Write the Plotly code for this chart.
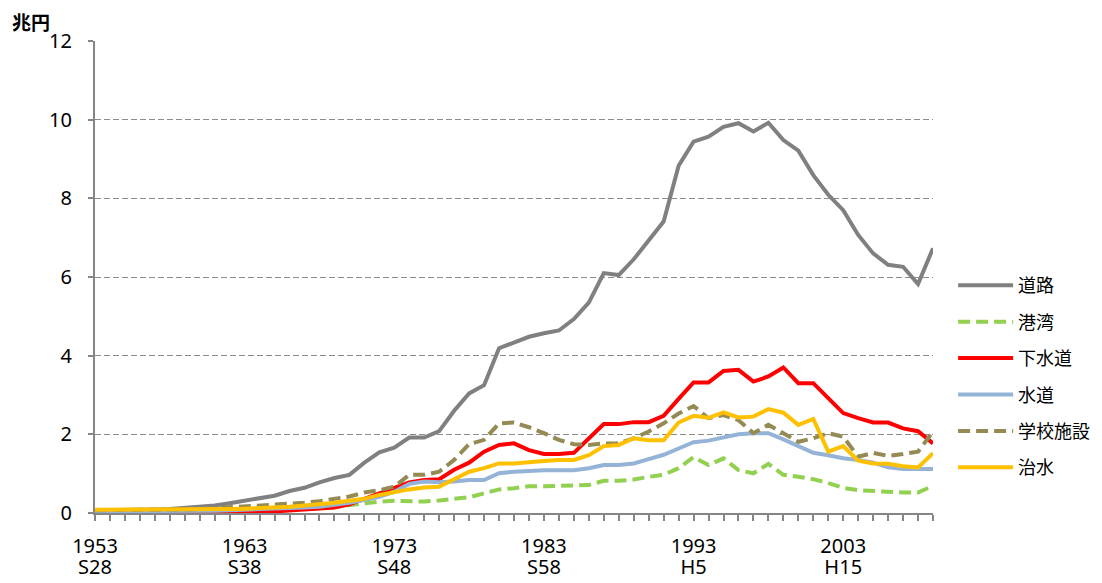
import plotly.graph_objects as go

years = list(range(1953, 2010))

road = [0.07, 0.07, 0.07, 0.08, 0.09, 0.10, 0.13, 0.15, 0.19, 0.25,
        0.31, 0.37, 0.44, 0.56, 0.64, 0.78, 0.89, 0.97, 1.28, 1.54,
        1.66, 1.92, 1.92, 2.08, 2.60, 3.04, 3.25, 4.19, 4.34, 4.48,
        4.57, 4.64, 4.93, 5.35, 6.10, 6.05, 6.45, 6.95, 7.41, 8.83,
        9.44, 9.57, 9.82, 9.91, 9.70, 9.92, 9.48, 9.21, 8.59, 8.09,
        7.70, 7.07, 6.60, 6.31, 6.26, 5.82, 6.73]

port = [0.04, 0.04, 0.04, 0.04, 0.04, 0.04, 0.04, 0.04, 0.04, 0.05,
        0.05, 0.06, 0.07, 0.08, 0.10, 0.12, 0.15, 0.20, 0.26, 0.29,
        0.31, 0.29, 0.29, 0.32, 0.36, 0.40, 0.50, 0.60, 0.63, 0.68,
        0.68, 0.70, 0.70, 0.71, 0.82, 0.82, 0.85, 0.92, 0.97, 1.14,
        1.42, 1.22, 1.39, 1.09, 1.01, 1.25, 0.97, 0.92, 0.86, 0.76,
        0.64, 0.58, 0.56, 0.52, 0.52, 0.52, 0.69]

sewer = [0.03, 0.03, 0.03, 0.02, 0.02, 0.01, 0.01, 0.01, 0.01, 0.01,
         0.02, 0.02, 0.04, 0.06, 0.08, 0.10, 0.14, 0.22, 0.36, 0.50,
         0.62, 0.78, 0.84, 0.86, 1.10, 1.28, 1.56, 1.73, 1.77, 1.60,
         1.50, 1.50, 1.53, 1.90, 2.26, 2.26, 2.31, 2.31, 2.47, 2.90,
         3.32, 3.32, 3.61, 3.64, 3.34, 3.47, 3.70, 3.30, 3.30, 2.92,
         2.54, 2.41, 2.30, 2.30, 2.15, 2.08, 1.77]

water = [0.04, 0.04, 0.04, 0.04, 0.05, 0.05, 0.05, 0.05, 0.06, 0.07,
         0.08, 0.09, 0.10, 0.12, 0.14, 0.16, 0.20, 0.26, 0.33, 0.41,
         0.54, 0.74, 0.80, 0.78, 0.80, 0.84, 0.84, 1.01, 1.05, 1.08,
         1.09, 1.09, 1.09, 1.14, 1.22, 1.22, 1.26, 1.37, 1.48, 1.64,
         1.80, 1.84, 1.92, 2.00, 2.03, 2.03, 1.87, 1.69, 1.53, 1.47,
         1.39, 1.35, 1.28, 1.16, 1.12, 1.12, 1.12]

school = [0.07, 0.07, 0.07, 0.07, 0.07, 0.08, 0.09, 0.10, 0.12, 0.14,
          0.16, 0.18, 0.20, 0.23, 0.26, 0.30, 0.35, 0.42, 0.52, 0.58,
          0.67, 0.97, 0.97, 1.05, 1.35, 1.75, 1.86, 2.28, 2.30, 2.18,
          2.03, 1.86, 1.75, 1.73, 1.77, 1.77, 1.90, 2.07, 2.28, 2.53,
          2.72, 2.41, 2.49, 2.36, 2.03, 2.24, 2.03, 1.81, 1.90, 2.03,
          1.94, 1.43, 1.53, 1.45, 1.50, 1.56, 2.07]

flood = [0.08, 0.08, 0.08, 0.08, 0.08, 0.08, 0.08, 0.08, 0.09, 0.10,
         0.11, 0.12, 0.14, 0.16, 0.19, 0.22, 0.26, 0.31, 0.36, 0.46,
         0.54, 0.60, 0.65, 0.67, 0.86, 1.05, 1.14, 1.26, 1.26, 1.28,
         1.32, 1.35, 1.35, 1.47, 1.70, 1.73, 1.90, 1.85, 1.85, 2.30,
         2.47, 2.42, 2.56, 2.43, 2.45, 2.64, 2.55, 2.24, 2.39, 1.56,
         1.70, 1.33, 1.26, 1.25, 1.19, 1.16, 1.52]

series_names = ["道路", "港湾", "下水道", "水道", "学校施設", "治水"]
label_years = [1953, 1963, 1973, 1983, 1993, 2003]
era_labels = ["S28", "S38", "S48", "S58", "H5", "H15"]
y_ticks = [0, 2, 4, 6, 8, 10, 12]
unit_label = "兆円"

styles = [
    dict(color="#808080", width=4, dash="solid"),
    dict(color="#92D050", width=4, dash="12px,6px"),
    dict(color="#FF0000", width=4, dash="solid"),
    dict(color="#95B3D7", width=4, dash="solid"),
    dict(color="#948A54", width=4, dash="12px,6px"),
    dict(color="#FFC000", width=4, dash="solid"),
]

fig = go.Figure()
for name, vals, st in zip(series_names, [road, port, sewer, water, school, flood], styles):
    fig.add_trace(go.Scatter(x=years, y=vals, mode="lines", name=name,
                             line=dict(color=st["color"], width=st["width"], dash=st["dash"]),
                             legendgroup=name))

# invisible helper trace so the era-label axis (x2) is drawn
fig.add_trace(go.Scatter(x=label_years, y=[0] * len(label_years), xaxis="x2", yaxis="y",
                         mode="none", showlegend=False, hoverinfo="skip"))

tick_text = [str(y) if y in label_years else "" for y in years]

# page body has an 8px margin, so the figure is sized/offset to compensate
fig.update_layout(
    width=1094, height=575, autosize=False,
    margin=dict(l=87, r=169, t=33, b=70, autoexpand=False),
    paper_bgcolor="white", plot_bgcolor="white",
    font=dict(family="Noto Sans, Noto Sans CJK JP", size=20, color="black"),
    showlegend=True,
    legend=dict(x=1.024, xanchor="left", y=0.521, yanchor="top",
                font=dict(family="Noto Sans CJK JP", size=18, color="black"),
                itemwidth=55, tracegroupgap=10, bgcolor="rgba(0,0,0,0)"),
    xaxis=dict(range=[1953, 2009], tickmode="array", tickvals=years, ticktext=tick_text,
               ticks="outside", ticklen=6, tickcolor="#868686", tickwidth=1.5,
               showline=True, linecolor="#868686", linewidth=2,
               showgrid=False, zeroline=False, ticklabelstandoff=8, automargin=False,
               tickfont=dict(family="Noto Sans", size=20)),
    xaxis2=dict(range=[1953, 2009], overlaying="x", anchor="y", side="bottom",
                tickmode="array", tickvals=label_years, ticktext=era_labels,
                ticks="", showline=False, showgrid=False, zeroline=False,
                ticklabelstandoff=40, automargin=False,
                tickfont=dict(family="Noto Sans", size=20)),
    yaxis=dict(range=[0, 12], tickmode="array", tickvals=y_ticks,
               ticks="outside", ticklen=5, tickcolor="#868686", tickwidth=1.5,
               showline=True, linecolor="#868686", linewidth=2,
               showgrid=True, gridcolor="#8c8c8c", gridwidth=1, griddash="6px,3px",
               zeroline=False, ticklabelstandoff=12, automargin=False,
               tickfont=dict(family="Noto Sans", size=20)),
)

fig.add_annotation(text="<b>" + unit_label + "</b>", xref="paper", yref="paper",
                   x=-0.1, y=1.041, xanchor="left", yanchor="middle", showarrow=False,
                   borderpad=0, font=dict(family="Noto Sans CJK JP", size=19, color="black"))

fig.write_html("out.html")
